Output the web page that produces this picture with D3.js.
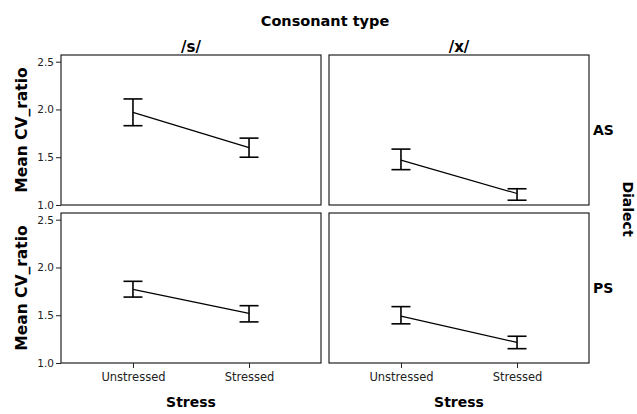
<!DOCTYPE html>
<html>
<head>
<meta charset="utf-8">
<script src="https://cdn.jsdelivr.net/npm/d3@7"></script>
<style>
  body { margin: 0; background: #fff; }
  text { font-family: "DejaVu Sans", Verdana, sans-serif; }
</style>
</head>
<body>
<div class="graph"></div>
<script>
// facet categories
const consonants = ["/s/", "/x/"];
const dialects = ["AS", "PS"];
const stressLevels = ["Unstressed", "Stressed"];
const yTicks = [1.0, 1.5, 2.0, 2.5];

// values per panel, order: [AS /s/, AS /x/, PS /s/, PS /x/], each [Unstressed, Stressed]
const means = [[1.97, 1.60], [1.47, 1.12], [1.77, 1.52], [1.49, 1.215]];
const lower = [[1.83, 1.50], [1.37, 1.05], [1.69, 1.43], [1.41, 1.15]];
const upper = [[2.11, 1.70], [1.585, 1.17], [1.855, 1.60], [1.59, 1.28]];

const width = 637, height = 414;
const colX = [61, 329];
const rowY = [55, 213];
const panelW = 260, panelH = 150;

const svg = d3.select(".graph").append("svg")
  .attr("width", width)
  .attr("height", height);

const x = d3.scalePoint().domain(stressLevels).range([0, panelW]).padding(0.62);
const y = d3.scaleLinear().domain([1.0, 2.57]).range([panelH, 0]);

dialects.forEach((dialect, r) => {
  consonants.forEach((cons, c) => {
    const i = r * 2 + c;
    const g = svg.append("g")
      .attr("transform", `translate(${colX[c]},${rowY[r]})`);

    g.append("rect")
      .attr("width", panelW)
      .attr("height", panelH)
      .attr("fill", "#fff")
      .attr("stroke", "#222")
      .attr("stroke-width", 1.2);

    const rows = stressLevels.map((s, j) => ({
      s, m: means[i][j], lo: lower[i][j], hi: upper[i][j]
    }));

    // mean line
    g.append("path")
      .datum(rows)
      .attr("fill", "none")
      .attr("stroke", "#000")
      .attr("stroke-width", 1.2)
      .attr("d", d3.line().x(d => x(d.s)).y(d => y(d.m)));

    // error bars
    const eb = g.selectAll(".eb").data(rows).enter().append("g")
      .attr("stroke", "#000").attr("stroke-width", 1.6);
    eb.append("line")
      .attr("x1", d => x(d.s)).attr("x2", d => x(d.s))
      .attr("y1", d => y(d.lo)).attr("y2", d => y(d.hi));
    eb.append("line")
      .attr("x1", d => x(d.s) - 9.5).attr("x2", d => x(d.s) + 9.5)
      .attr("y1", d => y(d.lo)).attr("y2", d => y(d.lo));
    eb.append("line")
      .attr("x1", d => x(d.s) - 9.5).attr("x2", d => x(d.s) + 9.5)
      .attr("y1", d => y(d.hi)).attr("y2", d => y(d.hi));

    // y axis on left column
    if (c === 0) {
      const ya = g.append("g")
        .call(d3.axisLeft(y).tickValues(yTicks).tickFormat(d3.format(".1f")).tickSize(5).tickPadding(2));
      ya.select(".domain").remove();
      ya.selectAll("text").attr("font-size", 10.5).attr("fill", "#222");
      ya.selectAll("line").attr("stroke", "#222");

      g.append("text")
        .attr("transform", `translate(-34,${panelH / 2}) rotate(-90)`)
        .attr("text-anchor", "middle")
        .attr("font-size", 15.5)
        .attr("font-weight", "bold")
        .text("Mean CV_ratio");
    }

    // x axis on bottom row
    if (r === 1) {
      const xa = g.append("g")
        .attr("transform", `translate(0,${panelH})`)
        .call(d3.axisBottom(x).tickSize(5));
      xa.select(".domain").remove();
      xa.selectAll("text").attr("font-size", 11.5).attr("fill", "#222").attr("dy", "0.85em");
      xa.selectAll("line").attr("stroke", "#222");

      g.append("text")
        .attr("x", panelW / 2)
        .attr("y", panelH + 44)
        .attr("text-anchor", "middle")
        .attr("font-size", 14)
        .attr("font-weight", "bold")
        .text("Stress");
    }

    // column headers
    if (r === 0) {
      g.append("text")
        .attr("x", panelW / 2)
        .attr("y", -3)
        .attr("text-anchor", "middle")
        .attr("font-size", 15)
        .attr("font-weight", "bold")
        .text(cons);
    }

    // row labels
    if (c === 1) {
      g.append("text")
        .attr("x", panelW + 4)
        .attr("y", panelH / 2 + 5)
        .attr("font-size", 14)
        .attr("font-weight", "bold")
        .text(dialect);
    }
  });
});

svg.append("text")
  .attr("x", 325)
  .attr("y", 26)
  .attr("text-anchor", "middle")
  .attr("font-size", 14.5)
  .attr("font-weight", "bold")
  .text("Consonant type");

svg.append("text")
  .attr("transform", `translate(623,209) rotate(90)`)
  .attr("text-anchor", "middle")
  .attr("font-size", 14)
  .attr("font-weight", "bold")
  .text("Dialect");
</script>
</body>
</html>
